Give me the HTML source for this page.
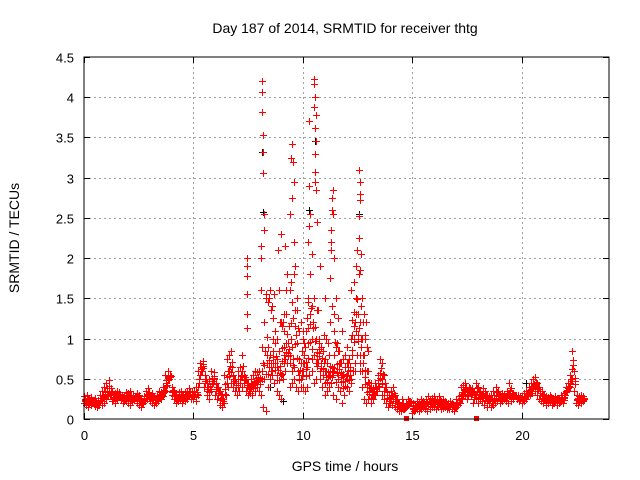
<!DOCTYPE html>
<html><head><meta charset="utf-8"><style>
body{margin:0;background:#fff}
svg{display:block;font-family:"Liberation Sans",sans-serif}
</style></head><body>
<svg id="chart" width="640" height="480" viewBox="0 0 640 480" xmlns="http://www.w3.org/2000/svg">
<rect width="640" height="480" fill="#fff"/>
<text x="345" y="33" font-size="14" text-anchor="middle" fill="#000">Day 187 of 2014, SRMTID for receiver thtg</text>
<text transform="translate(19,238) rotate(-90)" font-size="14" text-anchor="middle">SRMTID / TECUs</text>
<text x="345" y="471" font-size="14" text-anchor="middle">GPS time / hours</text>
<g id="grid"></g>
<g id="axes"></g>
<g id="marks" shape-rendering="crispEdges"></g>
<rect x="84" y="57" width="525" height="362" fill="none" stroke="#000" stroke-width="1"/>
</svg>
<script>
const xTicks=[0,5,10,15,20];
const yTicks=[0,0.5,1,1.5,2,2.5,3,3.5,4,4.5];
const yTickLabels=["0","0.5","1","1.5","2","2.5","3","3.5","4","4.5"];
const baseStart=0, baseStep=0.1;
const baseLo=[.20,.18,.15,.17,.20,.16,.15,.18,.17,.20, .25,.28,.30,.22,.20,.25,.28,.24,.20,.22, .20,.18,.22,.25,.20,.18,.15,.20,.22,.25, .22,.20,.18,.20,.22,.25,.28,.35,.42,.50, .30,.25,.20,.22,.25,.20,.22,.25,.28,.25, .25,.22,.30,.55,.60,.40,.30,.25,.35,.45, .30,.25,.18,.15,.20,.30,.40,.45,.40,.35, .30,.35,.40,.45,.35,.30,.32,.30,.35,.40, .35,.30,.15,.10,.40,.50,.55,.45,.35,.30, .25,.50,.60,.70,.40,.45,.50,.40,.35,.40, .40,.35,.40,.55,.60,.45,.50,.70,.50,.40, .30,.35,.40,.45,.30,.25,.40,.35,.20,.30, .40,.35,.50,.60,.70,.80,.60,.40,.25,.20, .25,.20,.25,.30,.35,.40,.30,.25,.20,.15, .20,.18,.15,.12,.10,.10,.12,.15,.18,.20, .08,.10,.12,.10,.12,.15,.12,.10,.12,.15, .15,.12,.15,.12,.14,.15,.12,.13,.12,.10, .15,.18,.20,.25,.30,.25,.35,.30,.20,.25, .20,.25,.22,.18,.15,.20,.15,.18,.20,.22, .20,.22,.25,.22,.20,.22,.25,.28,.25,.22, .20,.22,.25,.28,.30,.32,.35,.30,.25,.22, .20,.18,.20,.22,.18,.20,.18,.20,.22,.20, .30,.35,.40,.50,.35,.20,.18,.20,.22];
const baseHi=[.28,.30,.25,.27,.22,.26,.24,.30,.35,.40, .45,.48,.38,.30,.32,.35,.33,.30,.28,.34, .32,.35,.30,.28,.32,.30,.25,.28,.35,.38, .30,.32,.28,.30,.35,.33,.40,.55,.60,.55, .40,.35,.30,.33,.35,.30,.33,.35,.38,.35, .35,.40,.60,.70,.72,.55,.45,.50,.60,.58, .45,.40,.35,.30,.55,.75,.80,.85,.55,.50, .60,.65,.80,.55,.50,.45,.50,.55,.60,.58, .60,.90,1.2,1.5,.90,.80,1.0,.95,.75,.85, 1.2,1.1,1.3,.95,1.6,.90,1.8,1.5,.75,.70, 1.0,.90,1.5,1.8,1.4,1.5,1.0,.95,.90,.85, .75,.70,.80,.65,1.3,.90,.85,.70,.75,.65, .70,.75,1.6,1.7,1.9,1.3,1.2,1.0,.80,.60, .45,.40,.38,.45,.55,.75,.70,.55,.40,.30, .35,.40,.30,.25,.20,.25,.15,.20,.25,.22, .20,.18,.22,.20,.25,.22,.25,.28,.25,.26, .28,.25,.28,.22,.25,.22,.20,.22,.20,.18, .25,.28,.40,.42,.45,.35,.40,.38,.35,.45, .40,.35,.38,.35,.30,.28,.30,.35,.40,.35, .30,.32,.30,.35,.45,.38,.32,.30,.30,.28, .28,.32,.35,.40,.45,.50,.52,.45,.40,.35, .30,.28,.27,.30,.25,.28,.26,.25,.30,.32, .40,.45,.55,.85,.60,.30,.28,.30,.28];
const spikeT=[8.15,8.15,8.15,8.2,8.2,8.2,8.22,8.22,8.1,8.1,7.45,7.45,7.45,7.45,7.45,7.45,9.5,9.45,9.55,9.6,9.5,9.4,9.6,9.0,8.85,9.2,10.3,10.5,10.5,10.55,10.5,10.6,10.55,10.55,10.6,10.55,10.55,10.6,10.3,10.35,10.3,10.25,10.65,10.4,11.4,11.35,11.35,11.4,11.3,11.3,11.3,11.45,11.25,11.5,12.55,12.6,12.6,12.6,12.55,12.55,12.5,12.65,12.6,12.7,12.8,12.9,8.7,8.9,9.3,9.5,10.0,9.9,10.2,10.8,11.0,8.5,8.6,9.1,9.7,10.7,11.6,11.8,12.0,12.2,12.4,12.85,13.0,
 8.1,8.3,8.4,8.45,8.55,8.65,8.75,8.8,8.95,9.05,9.15,9.25,9.35,9.45,9.55,9.65,9.75,9.85,9.95,10.05,10.15,10.25,10.35,10.45,10.65,10.75,10.85,10.95,11.05,11.15,11.25,11.35,11.45,11.55,11.65,11.75,11.85,11.95,12.05,12.15,12.25,12.35,12.45,12.55,12.65,12.75,12.85,12.95,
 8.35,8.6,8.8,9.0,9.2,9.4,9.6,9.8,10.0,10.2,10.4,10.6,10.8,11.0,11.2,11.4,11.6,11.8,12.0,12.2,12.4,12.6,12.8,13.0,13.1];
const spikeV=[4.2,4.07,3.82,3.53,3.32,3.06,2.55,2.35,2.15,2.0,2.0,1.9,1.78,1.55,1.3,1.13,3.42,3.25,3.2,2.95,2.75,2.55,2.2,2.3,2.1,2.15,3.7,4.23,4.16,4.0,3.88,3.78,3.62,3.3,3.45,3.07,2.95,2.85,2.9,2.55,2.4,2.2,2.45,2.05,2.85,2.75,2.6,2.55,2.35,2.2,2.1,2.0,1.75,1.5,3.1,2.95,2.8,2.72,2.52,2.25,2.1,2.05,1.85,1.5,1.3,1.2,1.55,1.6,1.8,1.45,1.1,1.2,1.25,1.9,1.5,1.6,1.4,1.2,1.05,1.35,1.25,1.1,0.9,1.0,1.2,1.0,0.85,
 1.6,1.55,1.45,1.5,1.35,1.25,1.1,1.0,1.2,1.15,1.3,1.6,1.15,1.7,1.25,1.9,1.35,1.1,0.85,0.95,1.1,1.45,1.3,1.2,1.35,1.0,0.9,1.05,1.0,0.95,1.2,1.4,1.1,0.95,0.85,0.7,0.75,0.8,0.7,0.65,0.8,1.0,1.5,1.8,1.4,1.2,1.05,0.9,
 0.7,0.6,0.65,0.55,0.75,0.7,0.65,0.6,0.7,0.65,0.75,0.7,0.6,0.6,0.55,0.6,0.5,0.55,0.5,0.45,0.6,0.7,0.8,0.6,0.45];
const blackT=[8.15,8.2,9.0,10.55,10.3,12.55,9.1,8.5,20.2];
const blackV=[3.32,2.57,2.3,3.45,2.6,2.55,0.22,0.4,0.45];
const zeroT=[14.7,17.9];

const L=84,R=609,T=57,B=419,XMAX=24,YMAX=4.5;
const sx=v=>L+v/XMAX*(R-L);
const sy=v=>B-v/YMAX*(B-T);
const NS="http://www.w3.org/2000/svg";
const grid=document.getElementById('grid'),axes=document.getElementById('axes'),marks=document.getElementById('marks');
function mk(tag,parent,attrs){const e=document.createElementNS(NS,tag);for(const k in attrs)e.setAttribute(k,attrs[k]);parent.appendChild(e);return e;}
xTicks.forEach(v=>{const x=Math.round(sx(v))+0.5;
 if(v>0){const g=mk('line',grid,{x1:x,x2:x,y1:T,y2:B,stroke:'#a0a0a0','stroke-dasharray':'2,3'});
 
 }
 mk('line',axes,{x1:x,x2:x,y1:B,y2:B-6,stroke:'#000'});mk('line',axes,{x1:x,x2:x,y1:T,y2:T+6,stroke:'#000'});
 const t=mk('text',axes,{x:x,y:B+21,'font-size':13,'text-anchor':'middle'});t.textContent=v;
 
 });
yTicks.forEach((v,i)=>{const y=Math.round(sy(v))+0.5;
 if(v>0&&v<YMAX){const g=mk('line',grid,{x1:L,x2:R,y1:y,y2:y,stroke:'#a0a0a0','stroke-dasharray':'2,3'});
 
 }
 mk('line',axes,{x1:L,x2:L+6,y1:y,y2:y,stroke:'#000'});mk('line',axes,{x1:R,x2:R-6,y1:y,y2:y,stroke:'#000'});
 const t=mk('text',axes,{x:L-10,y:y+5,'font-size':13,'text-anchor':'end'});t.textContent=yTickLabels[i];
 
 });
function plus(t,v,color,name){const x=Math.round(sx(t))+0.5,y=Math.round(sy(v))+0.5;
 const p=mk('path',marks,{d:`M${x-3.5} ${y}H${x+3.5}M${x} ${y-3.5}V${y+3.5}`,stroke:color,'stroke-width':1,fill:'none'});
 
 }
blackT.forEach((t,i)=>plus(t,blackV[i],'#000','black-point'));
baseLo.forEach((v,i)=>{const t=baseStart+i*baseStep,h=baseHi[i];
 plus(t,v,'#ff0000','red-point');
 plus(t+0.03,v+(h-v)*0.33,'#ff0000','red-point');
 plus(t+0.06,v+(h-v)*0.66,'#ff0000','red-point');
 plus(t+0.045,v+(h-v)*0.5,'#ff0000','red-point');});
baseHi.forEach((v,i)=>plus(baseStart+i*baseStep+0.02,v,'#ff0000','red-point'));
spikeT.forEach((t,i)=>plus(t,spikeV[i],'#ff0000','red-point'));
zeroT.forEach(t=>{const r=mk('rect',marks,{x:Math.round(sx(t))-2,y:B-3,width:5,height:5,fill:'#ff0000'});
 
 });
</script>
</body></html>
